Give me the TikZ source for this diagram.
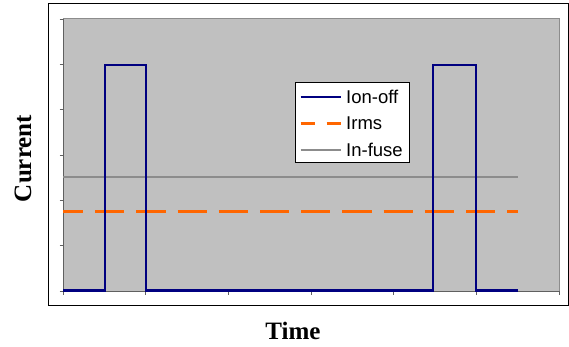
\documentclass[tikz,border=0pt]{standalone}
\usepackage{fontspec}
\setmainfont{Liberation Serif}
\newfontfamily\arialfont{Liberation Sans}
\definecolor{plotbg}{HTML}{C0C0C0}
\definecolor{navyline}{HTML}{000080}
\definecolor{orangeline}{HTML}{FF6600}
\definecolor{grayline}{HTML}{8C8C8C}
\definecolor{axisgray}{HTML}{606060}
\begin{document}
\begin{tikzpicture}[x=1pt,y=-1pt,
  axislabel/.style={font=\fontsize{25}{30}\selectfont\bfseries, inner sep=0pt},
  legtext/.style={font=\arialfont\fontsize{18.5}{22}\selectfont, anchor=west, inner sep=0pt},
  ionoff/.style={navyline, line width=2.2pt, line join=miter},
  irms/.style={orangeline, line width=2.7pt, dash pattern=on 29.2pt off 12pt, dash phase=9pt},
  infuse/.style={grayline, line width=2.4pt},
  tick/.style={axisgray, line width=0.8pt}]
\useasboundingbox (0,0) rectangle (569,347);
% chart frame
\draw[black, line width=1pt, fill=white] (48.5,4) rectangle (568.5,305);
% plot area
\fill[plotbg] (63,19) rectangle (559,291);
\draw[grayline, line width=1pt] (63,19) -- (559,19) -- (559,291);
% axes
\draw[axisgray, line width=1pt] (63,19) -- (63,291) -- (559,291);
\foreach \yy in {19,64.3,109.7,155,200.3,245.7,291} \draw[tick] (59.5,\yy) -- (63,\yy);
\foreach \xx in {63,145.7,228.3,311,393.7,476.3,559} \draw[tick] (\xx,291) -- (\xx,294.5);
% series
\draw[infuse] (63,177) -- (518,177);
\draw[irms] (63,211.3) -- (518,211.3);
\draw[ionoff] (63,290.5) -- (105,290.5) -- (105,64.7) -- (145.7,64.7) -- (145.7,290.5)
  -- (433.3,290.5) -- (433.3,64.7) -- (476,64.7) -- (476,290.5) -- (518,290.5);
% legend
\node[draw=black, line width=1pt, fill=white, minimum width=113.7pt, minimum height=80pt, inner sep=0pt, anchor=north west] (legend) at (295,82.3) {};
\draw[ionoff] (300.7,96.7) -- (341,96.7);
\draw[orangeline, line width=2.7pt] (300.7,123.3) -- (315,123.3) (326.7,123.3) -- (341,123.3);
\draw[infuse] (300.7,150.3) -- (341,150.3);
\node[legtext] (l1) at (346,96.7) {Ion-off};
\node[legtext] (l2) at (346,123.3) {Irms};
\node[legtext] (l3) at (346,150.3) {In-fuse};
% axis labels
\node[axislabel] (time) at (293,331) {Time};
\node[axislabel, rotate=90] (current) at (23,158.5) {Current};
\end{tikzpicture}
\end{document}
